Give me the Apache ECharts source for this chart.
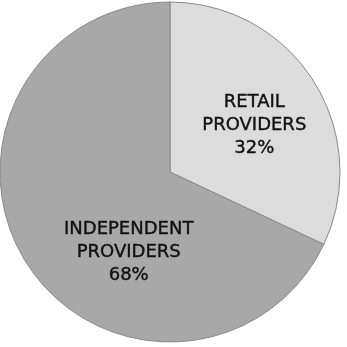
<!DOCTYPE html>
<html>
<head>
<meta charset="utf-8">
<script src="https://cdn.jsdelivr.net/npm/echarts@6/dist/echarts.min.js"></script>
<style>html,body{margin:0;padding:0;background:#fff}#c{width:347px;height:347px}</style>
</head>
<body>
<div id="c"></div>
<script>
var categories = ['RETAIL\nPROVIDERS', 'INDEPENDENT\nPROVIDERS'];
var values = [32, 68];
var colors = ['#dcdcdc', '#a8a8a8'];
var labelShift = [[10, 0], [33, 33]];

var chart = echarts.init(document.getElementById('c'));
chart.setOption({
  animation: false,
  backgroundColor: '#ffffff',
  series: [{
    type: 'pie',
    center: [170, 172],
    radius: [0, 170],
    startAngle: 90,
    clockwise: true,
    data: categories.map(function (c, i) {
      return { name: c, value: values[i], itemStyle: { color: colors[i] } };
    }),
    itemStyle: { borderColor: '#8a8a8a', borderWidth: 1 },
    label: {
      position: 'inside',
      formatter: '{b}\n{c}%',
      color: '#111111',
      fontFamily: 'DejaVu Sans',
      fontSize: 18,
      fontWeight: 'normal',
      lineHeight: 23,
      align: 'center',
      textBorderColor: '#111111',
      textBorderWidth: 0.4
    },
    labelLine: { show: false },
    labelLayout: function (p) {
      var s = labelShift[p.dataIndex];
      return { dx: s[0], dy: s[1] };
    }
  }]
});
</script>
</body>
</html>
